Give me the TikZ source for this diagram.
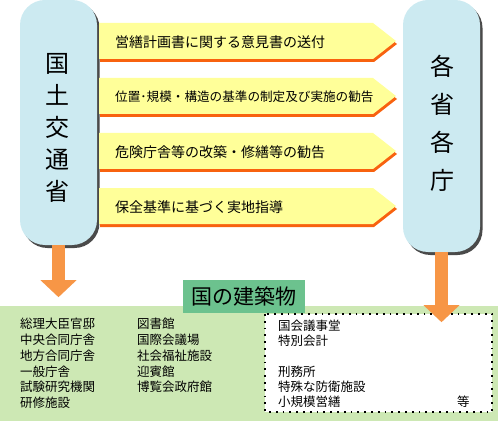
\documentclass[tikz,border=0pt]{standalone}
\usepackage{fontspec}
\setmainfont{Noto Sans CJK JP}
\usepackage{tikz}
\usetikzlibrary{arrows.meta, positioning, shadows, calc}
\definecolor{pillblue}{HTML}{CCEAF1}
\definecolor{shadowgray}{HTML}{4A4A4A}
\definecolor{banneryellow}{HTML}{FFFF99}
\definecolor{bannerorange}{HTML}{F8620F}
\definecolor{arroworange}{HTML}{F79646}
\definecolor{bandgreen}{HTML}{CDE8B4}
\definecolor{titlegreen}{HTML}{6CC28E}
\tikzset{
  pill/.style={
    rectangle, rounded corners=25pt,
    minimum width=77pt, inner sep=0pt,
    fill=pillblue, draw=none,
    general shadow={fill=shadowgray, shadow xshift=2.5pt, shadow yshift=-3pt},
  },
  vlabel/.style={
    align=center, inner sep=0pt,
    font=\fontsize{24}{32}\selectfont,
  },
  banner/.style={
    fill=banneryellow,
    general shadow={fill=bannerorange, shadow xshift=1pt, shadow yshift=-3pt},
  },
  msg/.style={anchor=west, inner sep=0pt},
  downarrow/.style={-{Triangle[width=35pt, length=17pt]}, line width=13pt, color=arroworange},
  listtext/.style={
    anchor=north west, align=left, inner sep=0pt,
    font=\fontsize{12.5}{15.8}\selectfont,
  },
  title/.style={
    rectangle, fill=titlegreen, inner sep=0pt,
    minimum width=122pt, minimum height=33pt,
    font=\fontsize{21}{24}\selectfont,
  },
}

\begin{document}
\begin{tikzpicture}[x=1pt, y=-1pt]
  \useasboundingbox (0,0) rectangle (500,422);

  % buildings area
  \fill[bandgreen] (0,306) rectangle (498,421);
  \node[title] (kuni) at (244,296.5) {国の建築物};
  \draw[fill=white, line width=1.8pt, dash pattern=on 1.8pt off 5pt] (265,314) rectangle (492,412);

  % the two sides
  \node[pill, minimum height=245pt] (mlit) at (58.5,122.5) {};
  \node[pill, minimum height=252pt] (mins) at (441.5,126) {};
  \node[vlabel] (mlitlbl) at (57,128) {国\\土\\交\\通\\省};
  \node[vlabel, font=\fontsize{24}{38}\selectfont] (minslbl) at (442.5,123) {各\\省\\各\\庁};

  % messages
  \foreach \t/\fs/\txt [count=\i] in {
      23/14/営繕計画書に関する意見書の送付,
      78/12.6/位置･規模・構造の基準の制定及び実施の勧告,
      133/14/危険庁舎等の改築・修繕等の勧告,
      188/14/保全基準に基づく実地指導} {
    \path[banner] (99,\t) -- (373,\t) -- (396,\t+18) -- (373,\t+36) -- (99,\t+36) -- cycle;
    \node[msg, font=\fontsize{\fs}{16}\selectfont] (msg\i) at (115,\t+19) {\txt};
  }

  % down arrows
  \path (mlit.south) ++(0,52) coordinate (mlittip);
  \path (mins.south) ++(0,70) coordinate (minstip);
  \draw[downarrow] (mlit.south) -- (mlittip);
  \draw[downarrow] (mins.south) -- (minstip);

  % lists
  \node[listtext] (lista) at (20,318) {総理大臣官邸\\中央合同庁舎\\地方合同庁舎\\一般庁舎\\試験研究機関\\研修施設};
  \node[listtext] (listb) at (137,318) {図書館\\国際会議場\\社会福祉施設\\迎賓館\\博覧会政府館};
  \node[listtext, font=\fontsize{12.5}{15.2}\selectfont] (listc) at (278,320)
    {国会議事堂\\特別会計\\[15.2pt]刑務所\\特殊な防衛施設\\小規模営繕};
  \node[listtext] (etc) at (457,396) {等};

\end{tikzpicture}
\end{document}
